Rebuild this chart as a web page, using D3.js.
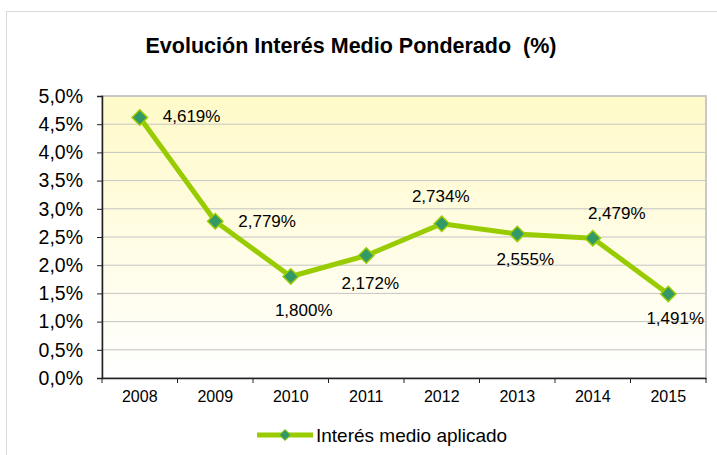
<!DOCTYPE html>
<html>
<head>
<meta charset="utf-8">
<script src="https://cdn.jsdelivr.net/npm/d3@7"></script>
<style>
  body { margin: 0; background: #fff; }
  svg { display: block; font-family: "Liberation Sans", Arial, sans-serif; }
</style>
</head>
<body>
<div id="chart"></div>
<script>
// datos
const years = ["2008", "2009", "2010", "2011", "2012", "2013", "2014", "2015"];
const rates = [4.619, 2.779, 1.800, 2.172, 2.734, 2.555, 2.479, 1.491];
const rateLabels = ["4,619%", "2,779%", "1,800%", "2,172%", "2,734%", "2,555%", "2,479%", "1,491%"];
const yTicks = [0, 0.5, 1, 1.5, 2, 2.5, 3, 3.5, 4, 4.5, 5];

const W = 717, H = 455;
const margin = { top: 96, right: 11, bottom: 77, left: 102 };
const width = W - margin.left - margin.right;
const height = H - margin.top - margin.bottom;

const svg = d3.select("#chart").append("svg")
    .attr("width", W)
    .attr("height", H);

// borde exterior
svg.append("rect")
    .attr("x", 6.5).attr("y", 11.5)
    .attr("width", 720).attr("height", 460)
    .attr("fill", "none")
    .attr("stroke", "#d9d9d9");

svg.append("text")
    .attr("x", 351).attr("y", 53)
    .attr("text-anchor", "middle")
    .attr("font-size", "21.5px")
    .attr("font-weight", "bold")
    .style("white-space", "pre")
    .text("Evolución Interés Medio Ponderado  (%)");

// gradiente del fondo
const grad = svg.append("defs").append("linearGradient")
    .attr("id", "bg-grad")
    .attr("x1", "0%").attr("y1", "0%")
    .attr("x2", "0%").attr("y2", "100%");
grad.append("stop").attr("offset", "0%").attr("stop-color", "#fffac8");
grad.append("stop").attr("offset", "100%").attr("stop-color", "#ffffff");

const g = svg.append("g")
    .attr("transform", `translate(${margin.left},${margin.top})`);

const x = d3.scaleBand().domain(years).range([0, width]);
const y = d3.scaleLinear().domain([0, 5]).range([height, 0]);

g.append("rect")
    .attr("width", width).attr("height", height)
    .attr("fill", "url(#bg-grad)")
    .attr("stroke", "#c8c8c8")
    .attr("stroke-width", 2);

// líneas de cuadrícula
g.append("g")
    .selectAll("line")
    .data(yTicks.slice(1))
    .join("line")
    .attr("x1", 0).attr("x2", width)
    .attr("y1", d => y(d)).attr("y2", d => y(d))
    .attr("stroke", "#c4c4c4")
    .attr("stroke-width", 1);

// eje Y
g.append("g")
    .call(d3.axisLeft(y).tickValues(yTicks).tickSize(5).tickPadding(14)
        .tickFormat(d => d.toFixed(1).replace(".", ",") + "%"))
    .call(a => a.select(".domain").attr("stroke", "#222").attr("stroke-width", 1.5))
    .call(a => a.selectAll(".tick line").attr("stroke", "#222"))
    .call(a => a.selectAll(".tick text").attr("fill", "#000").attr("font-size", "19.5px")
        .attr("font-family", "Liberation Sans, Arial, sans-serif"));

// eje X
g.append("g")
    .attr("transform", `translate(0,${height})`)
    .call(d3.axisBottom(x).tickSize(0).tickPadding(13))
    .call(a => a.select(".domain").attr("stroke", "#222").attr("stroke-width", 1.5))
    .call(a => a.selectAll(".tick text").attr("fill", "#000").attr("font-size", "16px")
        .attr("font-family", "Liberation Sans, Arial, sans-serif"));

// marcas entre categorías
g.append("g")
    .selectAll("line")
    .data(years.concat(["end"]))
    .join("line")
    .attr("x1", (d, i) => i * x.bandwidth()).attr("x2", (d, i) => i * x.bandwidth())
    .attr("y1", height).attr("y2", height + 5)
    .attr("stroke", "#222");

const cx = d => x(d) + x.bandwidth() / 2;

const line = d3.line()
    .x((d, i) => cx(years[i]))
    .y(d => y(d));

g.append("path")
    .datum(rates)
    .attr("fill", "none")
    .attr("stroke", "#99cc00")
    .attr("stroke-width", 5)
    .attr("stroke-linejoin", "round")
    .attr("d", line);

const diamond = d3.symbol().type(d3.symbolDiamond2).size(150);

g.selectAll(".pt")
    .data(rates)
    .join("path")
    .attr("class", "pt")
    .attr("transform", (d, i) => `translate(${cx(years[i])},${y(d)})`)
    .attr("d", diamond)
    .attr("fill", "#339966")
    .attr("stroke", "#99cc00")
    .attr("stroke-width", 1.5);

// desplazamiento de las etiquetas respecto al punto [dx, dy, anchor]
const labelPos = [
    [23, 5, "start"], [23, 6, "start"], [13, 40, "middle"], [4, 34, "middle"],
    [-1, -22, "middle"], [8, 31, "middle"], [24, -19, "middle"], [7, 30, "middle"]
];

g.selectAll(".lbl")
    .data(rates)
    .join("text")
    .attr("class", "lbl")
    .attr("x", (d, i) => cx(years[i]) + labelPos[i][0])
    .attr("y", (d, i) => y(d) + labelPos[i][1])
    .attr("text-anchor", (d, i) => labelPos[i][2])
    .attr("font-size", "17px")
    .attr("fill", "#000")
    .text((d, i) => rateLabels[i]);

// leyenda
const lg = svg.append("g").attr("transform", "translate(257,435)");
lg.append("line")
    .attr("x1", 0).attr("x2", 56)
    .attr("stroke", "#99cc00").attr("stroke-width", 5);
lg.append("path")
    .attr("transform", "translate(28,0)")
    .attr("d", d3.symbol().type(d3.symbolDiamond2).size(80))
    .attr("fill", "#339966").attr("stroke", "#99cc00");
lg.append("text")
    .attr("x", 59).attr("y", 7)
    .attr("font-size", "19px")
    .text("Interés medio aplicado");
</script>
</body>
</html>
